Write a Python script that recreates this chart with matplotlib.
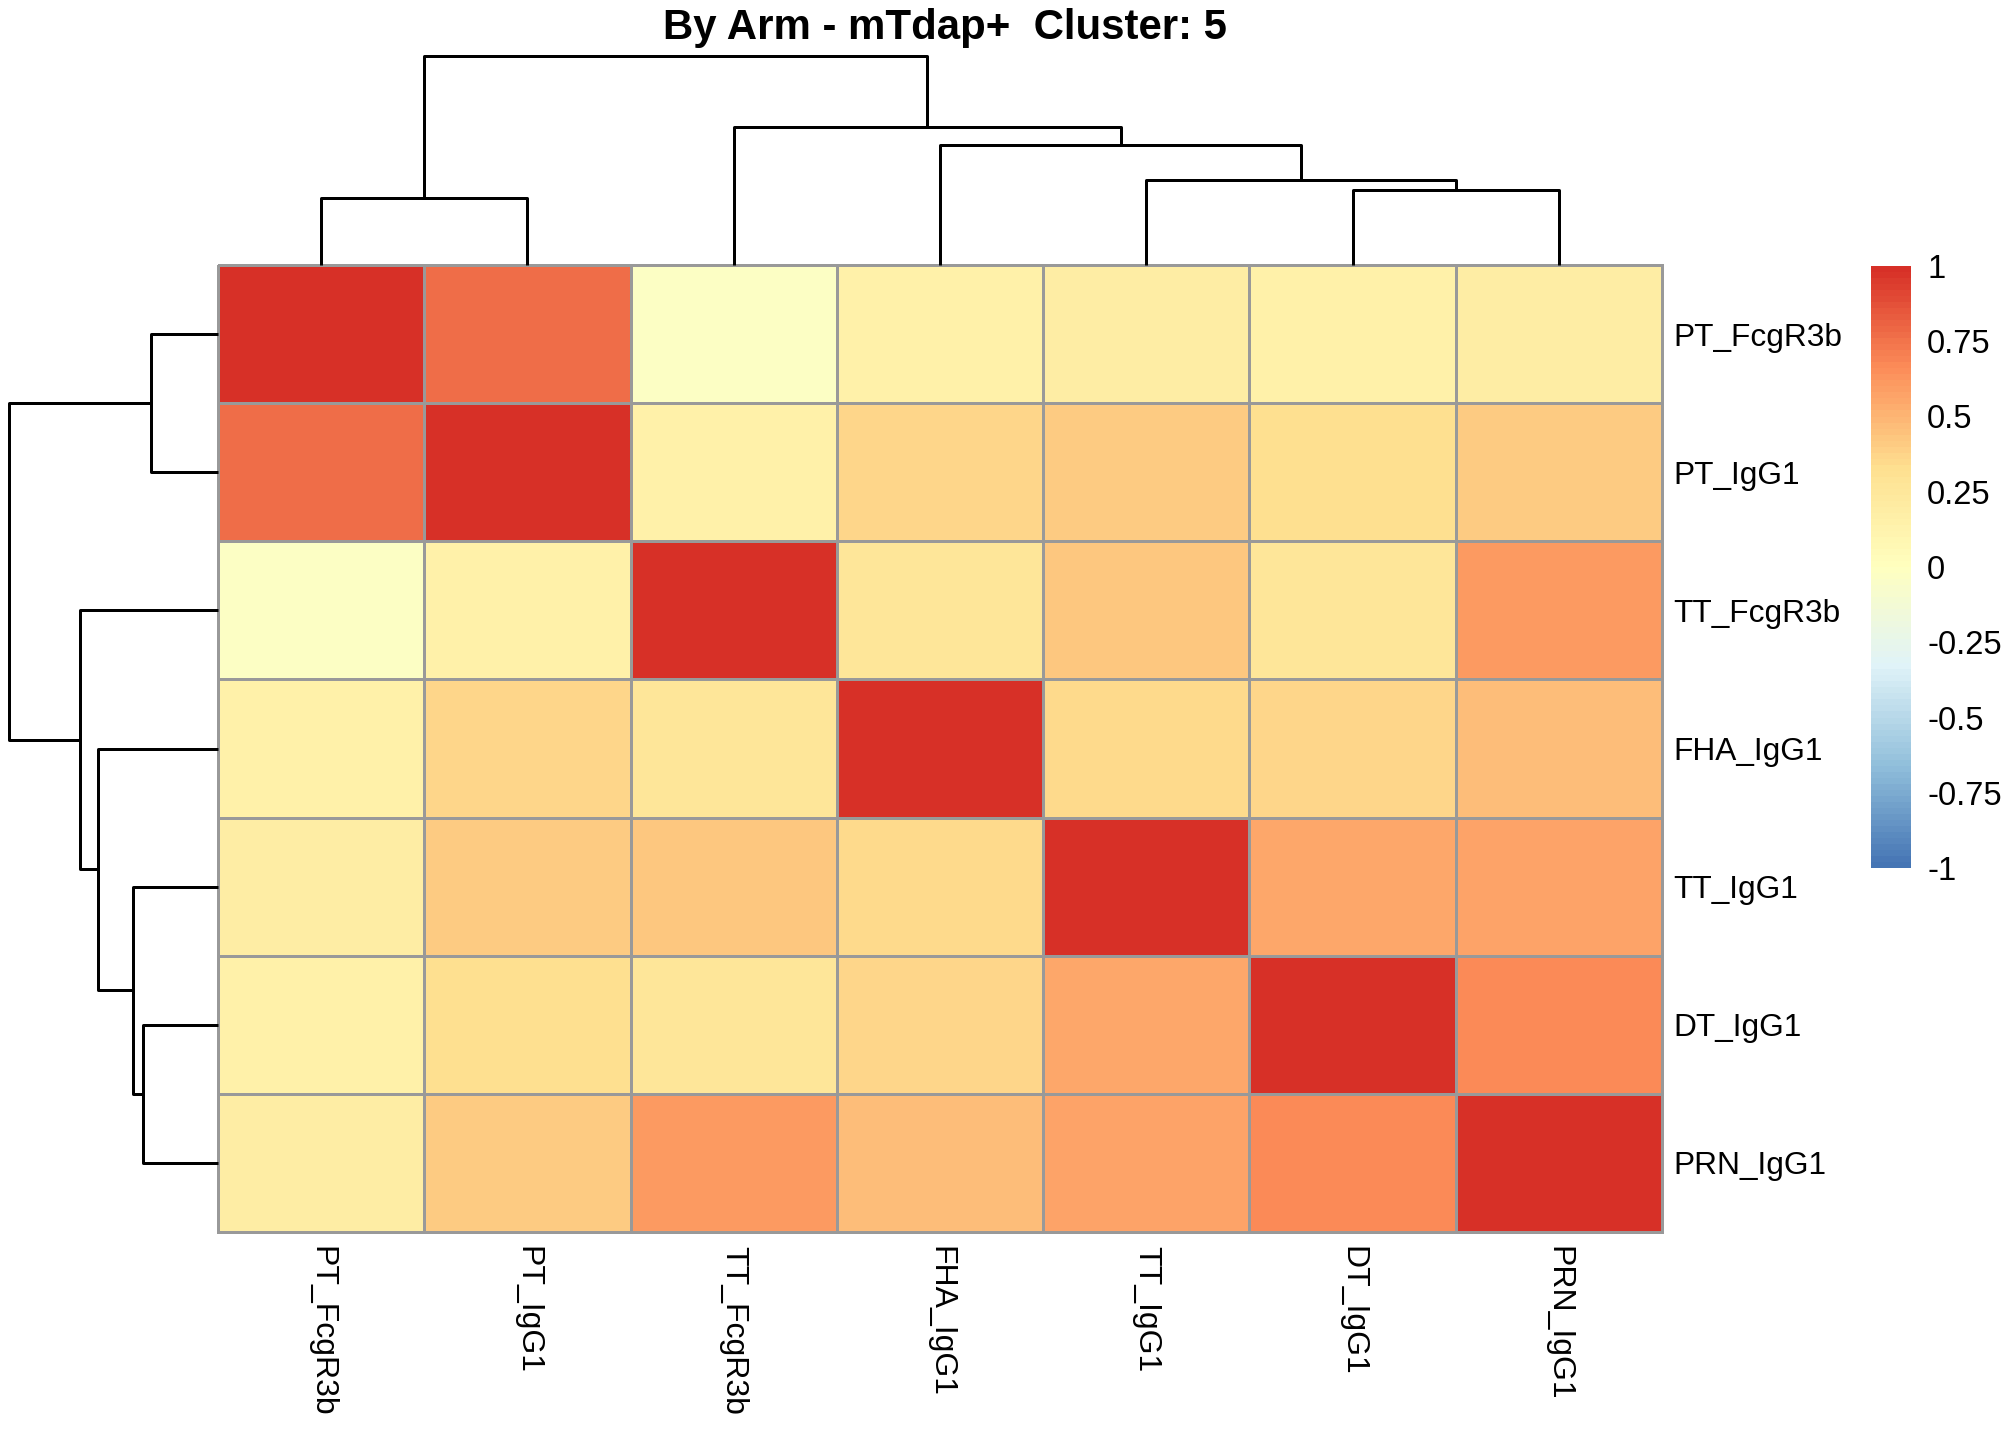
import numpy as np
import matplotlib
matplotlib.use("Agg")
import matplotlib.pyplot as plt
from matplotlib.colors import LinearSegmentedColormap, ListedColormap, Normalize
import matplotlib as mpl

plt.rcParams['font.family'] = ['Liberation Sans', 'DejaVu Sans']

title = "By Arm - mTdap+  Cluster: 5"

# leaf order as drawn (rows top->bottom, columns left->right)
labels = ["PT_FcgR3b", "PT_IgG1", "TT_FcgR3b", "FHA_IgG1", "TT_IgG1", "DT_IgG1", "PRN_IgG1"]

corr = [
    [1.00, 0.77, -0.03, 0.15, 0.18, 0.16, 0.19],
    [0.77, 1.00, 0.15, 0.36, 0.40, 0.32, 0.41],
    [-0.03, 0.15, 1.00, 0.26, 0.43, 0.26, 0.60],
    [0.15, 0.36, 0.26, 1.00, 0.34, 0.37, 0.47],
    [0.18, 0.40, 0.43, 0.34, 1.00, 0.54, 0.57],
    [0.16, 0.32, 0.26, 0.37, 0.54, 1.00, 0.66],
    [0.19, 0.41, 0.60, 0.47, 0.57, 0.66, 1.00],
]

# hclust style merges: ids 0-6 are leaves, 7+ are merged clusters in order
merge_pairs = [(0, 1), (5, 6), (4, 8), (3, 9), (2, 10), (7, 11)]
merge_heights = [0.674, 0.754, 0.854, 1.204, 1.377, 2.09]

legend_ticks = [1, 0.75, 0.5, 0.25, 0, -0.25, -0.5, -0.75, -1]
legend_labels = ["1", "0.75", "0.5", "0.25", "0", "-0.25", "-0.5", "-0.75", "-1"]

# rev(brewer.pal(7, "RdYlBu"))
palette = ["#4575B4", "#91BFDB", "#E0F3F8", "#FFFFBF", "#FEE090", "#FC8D59", "#D73027"]
ramp = LinearSegmentedColormap.from_list("ramp", palette)
cmap = ListedColormap(ramp(np.linspace(0, 1, 100)))
norm = Normalize(-1, 1)

W, H = 2016, 1440
fig = plt.figure(figsize=(7, 5), dpi=288)


def box(l, t, r, b):
    # pixel box -> figure fraction
    return [l / W, 1 - b / H, (r - l) / W, (b - t) / H]


def tree_segments(pairs, heights, n):
    pos = {i: i + 0.5 for i in range(n)}
    hgt = {i: 0.0 for i in range(n)}
    segs = []
    for k, ((a, b), h) in enumerate(zip(pairs, heights)):
        xa, xb = pos[a], pos[b]
        segs.append(([xa, xa, xb, xb], [hgt[a], h, h, hgt[b]]))
        pos[n + k] = (xa + xb) / 2
        hgt[n + k] = h
    return segs


n = len(labels)
segs = tree_segments(merge_pairs, merge_heights, n)
top_h = max(merge_heights)

# heatmap
ax = fig.add_axes(box(218, 265, 1662, 1232))
mesh = ax.pcolormesh(np.array(corr), cmap=cmap, norm=norm,
                     edgecolors="#999999", linewidth=0.7)
mesh.set_clip_on(False)
ax.set_xlim(0, n)
ax.set_ylim(n, 0)
for s in ax.spines.values():
    s.set_visible(False)
ax.set_xticks(np.arange(n) + 0.5)
ax.set_xticklabels(labels, rotation=-90, fontsize=8.0, va="top", ha="center")
ax.yaxis.tick_right()
ax.set_yticks(np.arange(n) + 0.5)
ax.set_yticklabels(labels, fontsize=7.9, va="center_baseline", ha="left")
ax.tick_params(axis="x", length=0, pad=3.6)
ax.tick_params(axis="y", length=0, pad=2.9)

# column dendrogram
axt = fig.add_axes(box(218, 56, 1662, 265))
for xs, ys in segs:
    axt.plot(xs, ys, color="black", lw=0.75, clip_on=False, solid_capstyle="butt")
axt.set_xlim(0, n)
axt.set_ylim(0, top_h)
axt.axis("off")

# row dendrogram
axl = fig.add_axes(box(9, 265, 218, 1232))
for xs, ys in segs:
    axl.plot(ys, xs, color="black", lw=0.75, clip_on=False, solid_capstyle="butt")
axl.set_xlim(top_h, 0)
axl.set_ylim(n, 0)
axl.axis("off")

# legend
cax = fig.add_axes(box(1871, 266, 1911, 868))
cb = mpl.colorbar.ColorbarBase(cax, cmap=cmap, norm=norm, orientation="vertical")
cb.outline.set_visible(False)
cb.set_ticks(legend_ticks)
cb.set_ticklabels(legend_labels)
cax.tick_params(length=0, pad=4, labelsize=8.2)

fig.text(945 / W, 1 - 28 / H, title, ha="center", va="center",
         fontsize=10.5, fontweight="bold")

fig.savefig("out.png", dpi=288, facecolor="white")
